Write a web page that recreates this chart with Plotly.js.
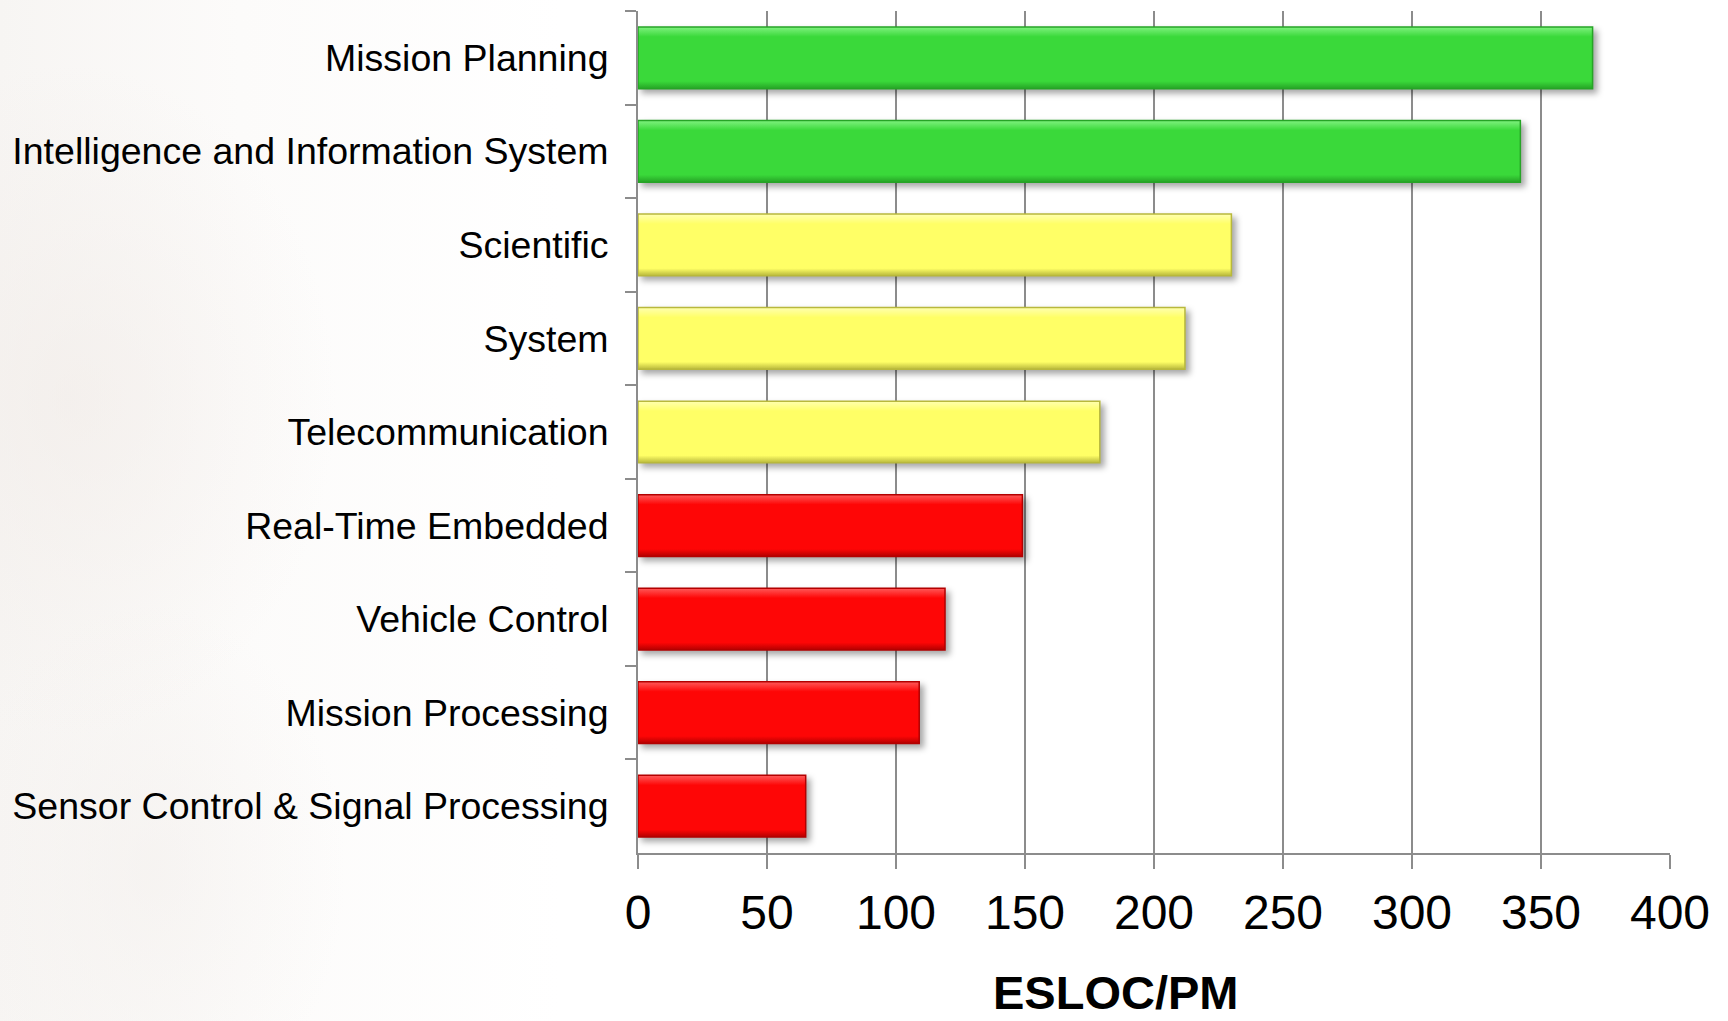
<!DOCTYPE html>
<html>
<head>
<meta charset="utf-8">
<script src="https://cdn.plot.ly/plotly-3.0.1.min.js"></script>
<style>
  html, body { margin: 0; padding: 0; }
  body {
    width: 1728px; height: 1021px; overflow: hidden;
    background:
      radial-gradient(ellipse 380px 480px at 70px 400px, rgba(240,234,230,0.55), rgba(255,255,255,0) 70%),
      radial-gradient(ellipse 280px 380px at 150px 870px, rgba(242,238,235,0.5), rgba(255,255,255,0) 70%),
      linear-gradient(90deg, #f7f5f3 0px, #fcfbfa 240px, #ffffff 560px);
  }
  #chart { width: 1728px; height: 1021px; }
  .barlayer .trace path { filter: drop-shadow(4px 4px 3px rgba(0,0,0,0.35)); }
</style>
</head>
<body>
<div id="chart"></div>
<script>
// Productivity by application domain (ESLOC per person-month)
const categories = [
  "Mission Planning",
  "Intelligence and Information System",
  "Scientific",
  "System",
  "Telecommunication",
  "Real-Time Embedded",
  "Vehicle Control",
  "Mission Processing",
  "Sensor Control & Signal Processing"
];
const eslocPerPM = [370, 342, 230, 212, 179, 149, 119, 109, 65];
const tier = ["high", "high", "mid", "mid", "mid", "low", "low", "low", "low"];
const xTicks = [0, 50, 100, 150, 200, 250, 300, 350, 400];
const xTickLabels = ["0", "50", "100", "150", "200", "250", "300", "350", "400"];

const tierFill = { high: "#3ad93a", mid: "#ffff66", low: "#fe0606" };
const tierEdge = { high: "#26a426", mid: "#b8b83c", low: "#b30000" };
const tierLight = { high: "#80f280", mid: "#ffffb0", low: "#ff5a5a" };

const gridGray = "#8c8c8c";

const trace = {
  type: "bar",
  orientation: "h",
  y: categories,
  x: eslocPerPM,
  marker: {
    color: tier.map(t => tierFill[t]),
    line: { color: tier.map(t => tierEdge[t]), width: 1.5 }
  },
  hoverinfo: "y+x"
};

const layout = {
  width: 1728,
  height: 1021,
  margin: { l: 638, r: 58, t: 11, b: 168, pad: 0 },
  paper_bgcolor: "rgba(0,0,0,0)",
  plot_bgcolor: "rgba(0,0,0,0)",
  showlegend: false,
  bargap: 0.34,
  font: { family: "Liberation Sans, Arial, sans-serif", color: "#000000" },
  xaxis: {
    range: [0, 400],
    tickvals: xTicks,
    ticktext: xTickLabels,
    showgrid: true,
    gridcolor: gridGray,
    gridwidth: 2,
    zeroline: false,
    showline: true,
    linecolor: gridGray,
    linewidth: 2,
    ticks: "outside",
    ticklen: 14,
    tickwidth: 2,
    tickcolor: gridGray,
    ticklabelstandoff: 2,
    tickfont: { size: 48, family: "Liberation Sans, Arial, sans-serif", color: "#000000" },
    fixedrange: true
  },
  yaxis: {
    type: "category",
    autorange: "reversed",
    showgrid: false,
    zeroline: false,
    showline: true,
    linecolor: gridGray,
    linewidth: 2,
    ticks: "outside",
    tickson: "boundaries",
    ticklen: 11,
    tickwidth: 2,
    tickcolor: gridGray,
    ticklabelstandoff: 20,
    tickfont: { size: 37.5, family: "Liberation Sans, Arial, sans-serif", color: "#000000" },
    fixedrange: true
  },
  annotations: [{
    text: "<b>ESLOC/PM</b>",
    xref: "paper", yref: "paper",
    x: 0.463, y: -0.1995,
    xanchor: "center", yanchor: "bottom",
    showarrow: false,
    font: { size: 47, family: "Liberation Sans, Arial, sans-serif", color: "#000000" }
  }]
};

Plotly.newPlot("chart", [trace], layout, { displayModeBar: false, staticPlot: true }).then(gd => {
  // Bevelled look: vertical gradient on each bar, lighter at the top edge
  const svg = gd.querySelector(".main-svg");
  const ns = "http://www.w3.org/2000/svg";
  let defs = svg.querySelector("defs");
  if (!defs) { defs = document.createElementNS(ns, "defs"); svg.insertBefore(defs, svg.firstChild); }
  Object.keys(tierFill).forEach(t => {
    const g = document.createElementNS(ns, "linearGradient");
    g.setAttribute("id", "bevel-" + t);
    g.setAttribute("x1", "0"); g.setAttribute("y1", "0");
    g.setAttribute("x2", "0"); g.setAttribute("y2", "1");
    [[0, tierLight[t]], [0.16, tierFill[t]], [0.88, tierFill[t]], [1, tierEdge[t]]].forEach(([o, c]) => {
      const s = document.createElementNS(ns, "stop");
      s.setAttribute("offset", o);
      s.setAttribute("stop-color", c);
      g.appendChild(s);
    });
    defs.appendChild(g);
  });
  const paths = gd.querySelectorAll(".barlayer .point path");
  paths.forEach((p, i) => {
    p.style.fill = "url(#bevel-" + tier[i] + ")";
  });
});
</script>
</body>
</html>
